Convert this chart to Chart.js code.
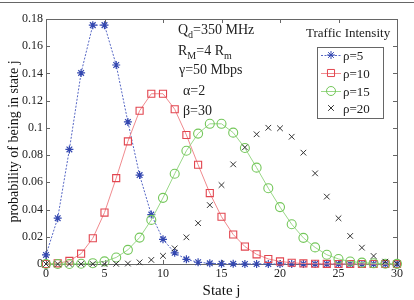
<!DOCTYPE html>
<html lang="en">
<head>
    <meta charset="UTF-8">
    <title>Probability of being in state j</title>
    <script src="https://cdn.jsdelivr.net/npm/chart.js"></script>
    <style>
        html, body { margin: 0; padding: 0; background: #fff; }
        #wrap { position: relative; width: 414px; height: 300px; }
        #topline { position: absolute; left: 0; top: 2px; width: 414px; height: 1px; background: #666; }
    </style>
</head>
<body>
<div id="wrap">
    <canvas id="chart" width="414" height="300"></canvas>
    <div id="topline"></div>
</div>
<script>
    // states j = 0..30
    const states = [0,1,2,3,4,5,6,7,8,9,10,11,12,13,14,15,16,17,18,19,20,21,22,23,24,25,26,27,28,29,30];
    const rho5  = [0.0067,0.0337,0.0842,0.1404,0.1755,0.1755,0.1462,0.1044,0.0653,0.0363,0.0181,0.0082,0.0034,0.0013,0.0005,0.0002,0.0001,0,0,0,0,0,0,0,0,0,0,0,0,0,0];
    const rho10 = [0,0.0005,0.0023,0.0076,0.0189,0.0378,0.0631,0.0901,0.1126,0.1251,0.1251,0.1137,0.0948,0.0729,0.0521,0.0347,0.0217,0.0128,0.0071,0.0037,0.0019,0.0009,0.0004,0.0002,0.0001,0,0,0,0,0,0];
    const rho15 = [0,0,0,0.0002,0.0006,0.0019,0.0048,0.0104,0.0194,0.0324,0.0486,0.0663,0.0832,0.0958,0.1030,0.1030,0.0965,0.0852,0.0708,0.0557,0.0418,0.0292,0.0192,0.0122,0.0068,0.0037,0.0018,0.0010,0.0005,0.0002,0.0001];
    const rho20 = [0,0,0,0,0,0,0.0001,0.0003,0.0012,0.0030,0.0060,0.0115,0.0196,0.0300,0.0433,0.0580,0.0732,0.0857,0.0953,0.1001,0.0997,0.0935,0.0818,0.0666,0.0495,0.0336,0.0206,0.0120,0.0059,0.0017,0.0002];
    const seriesLabels = ['\u03c1=5', '\u03c1=10', '\u03c1=15', '\u03c1=20'];
    const xTicks = [0, 5, 10, 15, 20, 25, 30];
    const yTicks = [0, 0.02, 0.04, 0.06, 0.08, 0.1, 0.12, 0.14, 0.16, 0.18];

    const SERIF = "'Liberation Serif', 'DejaVu Serif', serif";

    const pts = arr => arr.map((v, i) => ({ x: states[i], y: v }));

    // annotation lines: [text, isSubscript] segments
    const noteLines = [
        { x: 178, y: 34, segs: [['Q', 0], ['d', 1], ['=350 MHz', 0]] },
        { x: 178, y: 55, segs: [['R', 0], ['M', 1], ['=4 R', 0], ['m', 1]] },
        { x: 179, y: 74, segs: [['\u03b3=50 Mbps', 0]] },
        { x: 183, y: 95, segs: [['\u03b1=2', 0]] },
        { x: 183, y: 115, segs: [['\u03b2=30', 0]] }
    ];

    const framePlugin = {
        id: 'frame',
        beforeDatasetsDraw(chart) {
            const { ctx, chartArea: a, scales } = chart;
            ctx.save();
            ctx.strokeStyle = '#666';
            ctx.lineWidth = 1;
            ctx.strokeRect(Math.round(a.left) + 0.5, Math.round(a.top) + 0.5,
                Math.round(a.right - a.left), Math.round(a.bottom - a.top));
            ctx.beginPath();
            const tl = 4;
            xTicks.forEach(v => {
                const px = Math.round(scales.x.getPixelForValue(v)) + 0.5;
                ctx.moveTo(px, a.bottom); ctx.lineTo(px, a.bottom - tl);
                ctx.moveTo(px, a.top); ctx.lineTo(px, a.top + tl);
            });
            yTicks.forEach(v => {
                const py = Math.round(scales.y.getPixelForValue(v)) + 0.5;
                ctx.moveTo(a.left, py); ctx.lineTo(a.left + tl, py);
                ctx.moveTo(a.right, py); ctx.lineTo(a.right - tl, py);
            });
            ctx.stroke();
            ctx.restore();
        },
        afterDatasetsDraw(chart) {
            const { ctx } = chart;
            ctx.save();
            ctx.fillStyle = '#222';
            ctx.textBaseline = 'alphabetic';
            noteLines.forEach(line => {
                let x = line.x;
                line.segs.forEach(([t, sub]) => {
                    ctx.font = (sub ? '10px ' : '14px ') + SERIF;
                    ctx.fillText(t, x, line.y + (sub ? 4 : 0));
                    x += ctx.measureText(t).width;
                });
            });

            // legend
            ctx.font = '13px ' + SERIF;
            ctx.fillText('Traffic Intensity', 306, 37);
            ctx.fillStyle = '#fff';
            ctx.fillRect(317, 47, 66, 71);
            ctx.strokeStyle = '#666';
            ctx.lineWidth = 1;
            ctx.strokeRect(317.5, 47.5, 66, 71);
            const rows = [55, 73, 91, 108];
            chart.data.datasets.forEach((ds, i) => {
                const y = rows[i];
                if (ds.showLine !== false) {
                    ctx.save();
                    ctx.strokeStyle = ds.borderColor;
                    ctx.lineWidth = 1;
                    ctx.setLineDash(ds.borderDash || []);
                    ctx.beginPath();
                    ctx.moveTo(321, y + 0.5); ctx.lineTo(341, y + 0.5);
                    ctx.stroke();
                    ctx.restore();
                }
                ctx.save();
                ctx.strokeStyle = ds.pointBorderColor;
                ctx.fillStyle = 'rgba(0,0,0,0)';
                ctx.lineWidth = 1;
                Chart.helpers.drawPoint(ctx, { pointStyle: ds.pointStyle, radius: ds.pointRadius, borderWidth: 1 }, 331, y);
                ctx.restore();
                ctx.fillStyle = '#222';
                ctx.font = '13px ' + SERIF;
                ctx.fillText(seriesLabels[i], 343, y + 4.5);
            });
            ctx.restore();
        }
    };

    new Chart(document.getElementById('chart'), {
        type: 'scatter',
        data: {
            datasets: [
                {
                    label: seriesLabels[0], data: pts(rho5), showLine: true,
                    borderColor: '#5566c4', borderWidth: 1, borderDash: [2, 1.5],
                    pointStyle: 'star', pointRadius: 4, pointBorderColor: '#3347b0',
                    pointBackgroundColor: 'rgba(0,0,0,0)', pointBorderWidth: 1.2,
                    clip: false, order: 4
                },
                {
                    label: seriesLabels[1], data: pts(rho10), showLine: true,
                    borderColor: '#f08a8e', borderWidth: 1,
                    pointStyle: 'rect', pointRadius: 5, pointBorderColor: '#e2454f',
                    pointBackgroundColor: 'rgba(0,0,0,0)', pointBorderWidth: 1.1,
                    clip: false, order: 3
                },
                {
                    label: seriesLabels[2], data: pts(rho15), showLine: true,
                    borderColor: '#9ad888', borderWidth: 1,
                    pointStyle: 'circle', pointRadius: 4.5, pointBorderColor: '#74c75a',
                    pointBackgroundColor: 'rgba(0,0,0,0)', pointBorderWidth: 1.1,
                    clip: false, order: 2
                },
                {
                    label: seriesLabels[3], data: pts(rho20), showLine: false,
                    pointStyle: 'crossRot', pointRadius: 4, pointBorderColor: '#333',
                    pointBackgroundColor: 'rgba(0,0,0,0)', pointBorderWidth: 1,
                    clip: false, order: 1
                }
            ]
        },
        options: {
            responsive: false,
            animation: false,
            events: [],
            layout: { padding: { left: 0, top: 19, right: 17, bottom: 0 } },
            plugins: { legend: { display: false }, tooltip: { enabled: false } },
            scales: {
                x: {
                    type: 'linear', min: 0, max: 30,
                    afterFit: s => { s.height = 36; },
                    afterBuildTicks: s => { s.ticks = xTicks.map(v => ({ value: v })); },
                    grid: { display: false, drawTicks: false },
                    border: { display: false },
                    ticks: { padding: 3, color: '#222', font: { family: SERIF, size: 12 }, maxRotation: 0 },
                    title: { display: true, text: 'State j', color: '#111', padding: { top: 6, bottom: 0 },
                        font: { family: SERIF, size: 15 } }
                },
                y: {
                    type: 'linear', min: 0, max: 0.18,
                    afterFit: s => { s.width = 46; },
                    afterBuildTicks: s => { s.ticks = yTicks.map(v => ({ value: v })); },
                    grid: { display: false, drawTicks: false },
                    border: { display: false },
                    ticks: { padding: 3, color: '#222', font: { family: SERIF, size: 12 },
                        callback: v => String(+v.toFixed(2)) },
                    title: { display: true, text: 'probability of being in state j', color: '#111',
                        padding: { top: 6, bottom: 0 }, font: { family: SERIF, size: 14 } }
                }
            }
        },
        plugins: [framePlugin]
    });
</script>
</body>
</html>
